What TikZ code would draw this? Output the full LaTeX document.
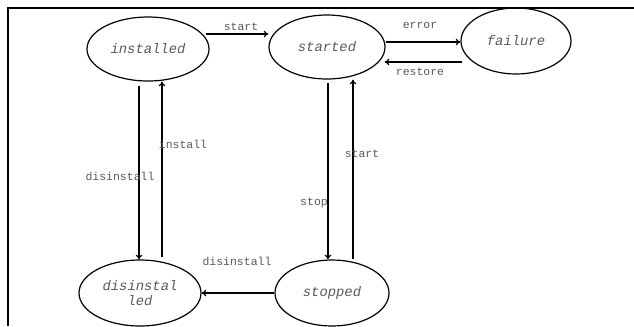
\documentclass[tikz,border=0pt]{standalone}
\usepackage{fontspec}
\setmonofont{Liberation Mono}
\usetikzlibrary{shapes.geometric,calc,arrows.meta}
\definecolor{txtgray}{rgb}{0.35,0.35,0.35}
\tikzset{
  state/.style={ellipse,draw,line width=0.9pt,inner sep=0pt,
    text=txtgray,font=\ttfamily\itshape\fontsize{10.4}{11}\selectfont,align=center},
  lbl/.style={text=txtgray,font=\ttfamily\fontsize{8.6}{9}\selectfont},
  trans/.style={line width=0.9pt,-{To[length=3.5pt,width=5pt]}}
}
\begin{document}
\begin{tikzpicture}[x=0.75pt,y=0.75pt,yscale=-1]
\useasboundingbox (0,0) rectangle (634,326);

%Frame
\draw [line width=1.4pt] (8,326) -- (8,8) -- (634,8) ;

%States
\node [state,minimum width=91.5pt,minimum height=48pt] (installed) at (148,49) {installed};
\node [state,minimum width=87pt,minimum height=48pt] (started) at (327,47) {started};
\node [state,minimum width=82.5pt,minimum height=49.5pt] (failure) at (516,41) {failure};
\node [state,minimum width=91.5pt,minimum height=49.5pt] (disinstalled) at (140,293) {disinstal\\led};
\node [state,minimum width=85.5pt,minimum height=49.5pt] (stopped) at (332,293) {stopped};

%Arrow ends
\coordinate (instout) at ($(installed.east)+(-4,-15)$);
\coordinate (errout) at ($(started.east)+(0,-5)$);
\coordinate (restout) at ($(failure.west)+(2,21)$);
\coordinate (restin) at ($(started.east)+(-1,15)$);
\coordinate (disout) at ($(installed.south)+(-9,4)$);
\coordinate (insout) at ($(disinstalled.north)+(22,-2)$);
\coordinate (stopout) at ($(started.south)+(1,3)$);
\coordinate (startout) at ($(stopped.north)+(21,0)$);

%Transitions
\draw [trans] (instout) -- (instout -| started.west) ;
\draw [trans] (errout) -- (errout -| failure.west) ;
\draw [trans] (restout) -- (restin) ;
\draw [trans] (disout) -- (disout |- disinstalled.north) ;
\draw [trans] (insout) -- (insout |- installed.south) ;
\draw [trans] (stopout) -- (stopout |- stopped.north) ;
\draw [trans] (startout) -- (startout |- started.south) ;
\draw [trans] (stopped.west) -- (disinstalled.east) ;

%Labels
\node [lbl] (lstart) at (241,27) {start};
\node [lbl] (lerror) at (420,25) {error};
\node [lbl] (lrestore) at (420,72) {restore};
\node [lbl] (linstall) at (183,144) {install};
\node [lbl] (ldisinstall) at (120,176) {disinstall};
\node [lbl] (lstartb) at (362,154) {start};
\node [lbl] (lstop) at (314,203) {stop};
\node [lbl] (ldisinstallb) at (237,261) {disinstall};

\end{tikzpicture}
\end{document}
